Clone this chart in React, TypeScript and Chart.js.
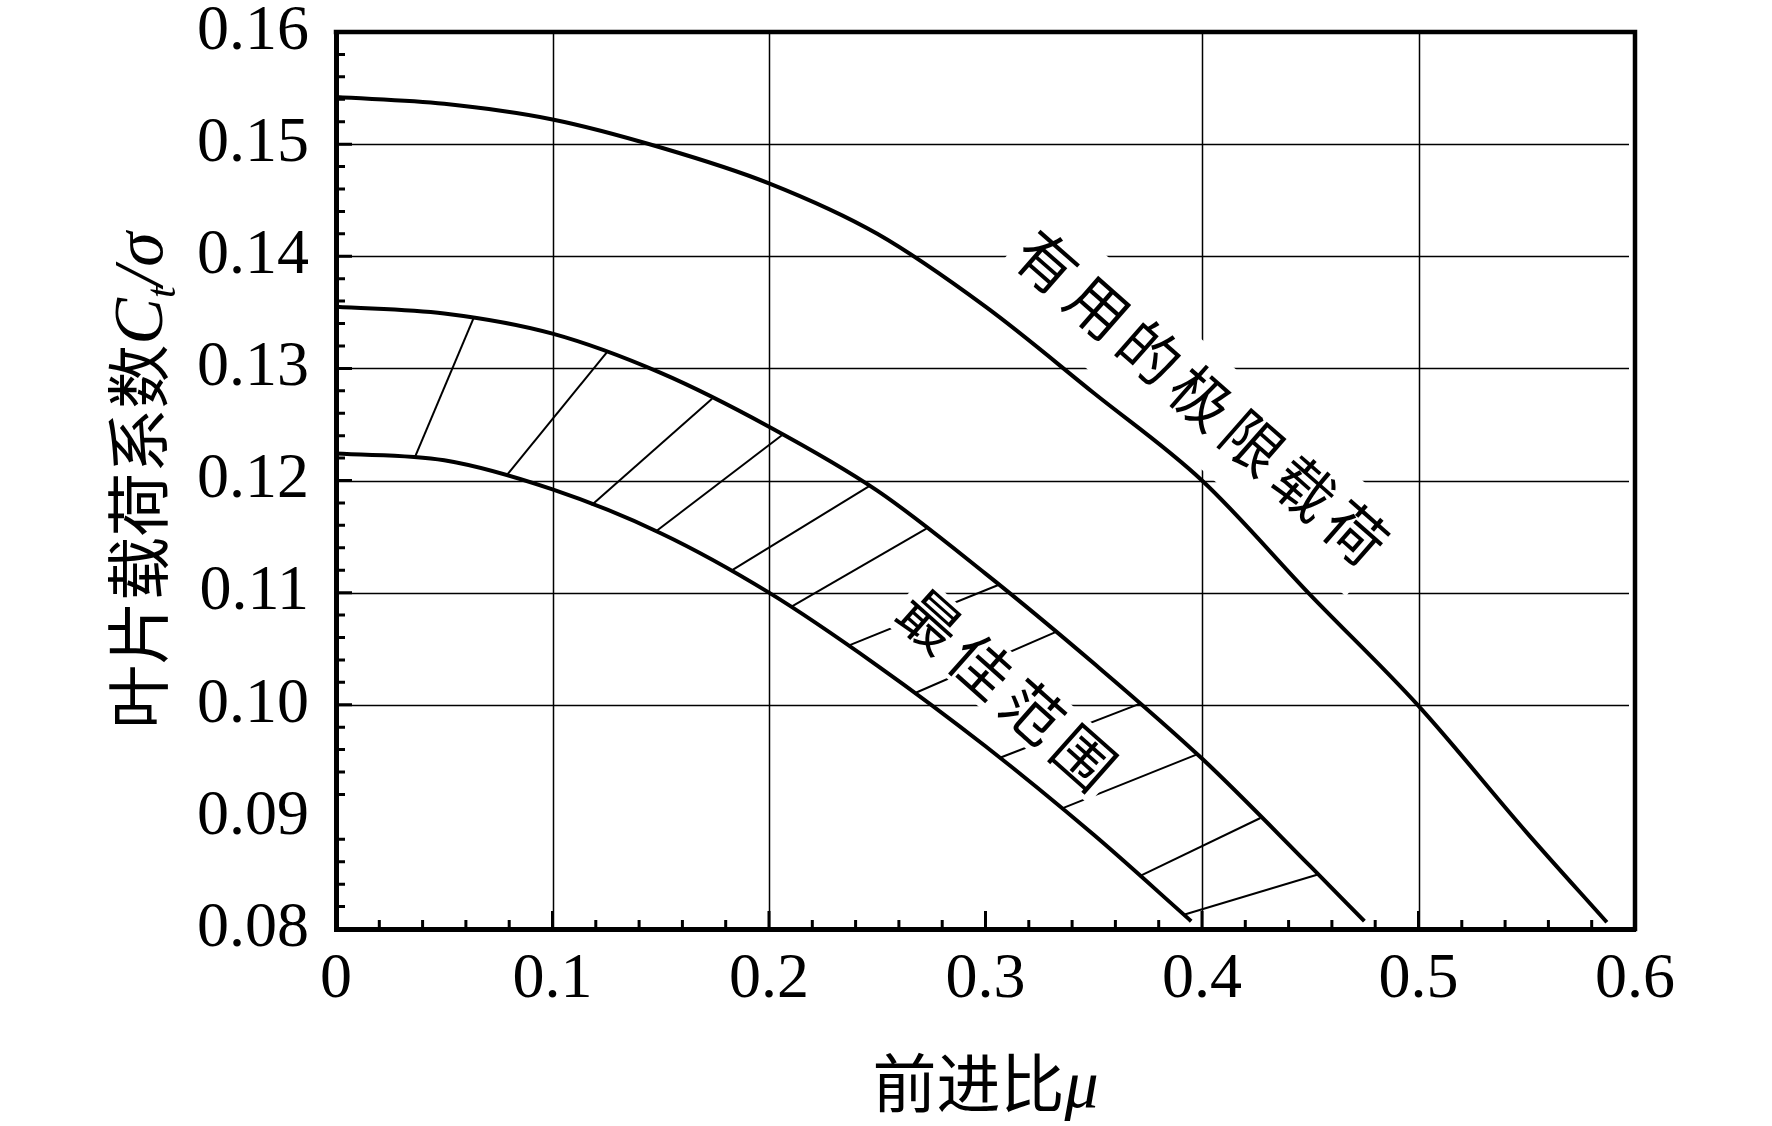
import { useEffect, useRef } from 'react';
import { Chart, registerables } from 'chart.js';

Chart.register(...registerables);

// axis tick labels
const X_TICK_LABELS = ['0', '0.1', '0.2', '0.3', '0.4', '0.5', '0.6'];
const Y_TICK_LABELS = ['0.08', '0.09', '0.10', '0.11', '0.12', '0.13', '0.14', '0.15', '0.16'];
// grid lines actually drawn in the original (0.3 and 0.09 are left out)
const X_GRID = [0.1, 0.2, 0.4, 0.5];
const Y_GRID = [0.1, 0.11, 0.12, 0.13, 0.14, 0.15];
const Y_MAJOR_TICK_OFF = [0.09];

// 有用的极限载荷 curve
const limitMu = [0, 0.05, 0.1, 0.15, 0.2, 0.25, 0.3, 0.35, 0.4, 0.45, 0.5, 0.55, 0.587];
const limitCt = [0.1542, 0.1536, 0.1522, 0.1497, 0.1465, 0.142, 0.1355, 0.1278, 0.12, 0.1098, 0.0999, 0.0886, 0.0806];

// 最佳范围, upper edge
const bestHighMu = [0, 0.05, 0.1, 0.15, 0.2, 0.25, 0.3, 0.35, 0.4, 0.45, 0.475];
const bestHighCt = [0.1355, 0.1349, 0.1331, 0.1296, 0.1248, 0.1191, 0.1117, 0.1037, 0.0952, 0.0856, 0.0807];

// 最佳范围, lower edge
const bestLowMu = [0, 0.05, 0.1, 0.15, 0.2, 0.25, 0.3, 0.35, 0.395];
const bestLowCt = [0.1224, 0.1218, 0.1192, 0.1153, 0.11, 0.1035, 0.0963, 0.0884, 0.0807];

// hatch strokes between the two edges (from lower edge to upper edge)
const hatchMu1 = [0.0365, 0.079, 0.118, 0.148, 0.183, 0.21, 0.237, 0.267, 0.307, 0.336, 0.371, 0.392];
const hatchCt1 = [0.1221, 0.1205, 0.1178, 0.1155, 0.112, 0.1087, 0.1053, 0.101, 0.0953, 0.0908, 0.0847, 0.0813];
const hatchMu2 = [0.0636, 0.125, 0.1737, 0.2064, 0.2463, 0.2727, 0.3062, 0.3326, 0.3714, 0.398, 0.427, 0.4543];
const hatchCt2 = [0.1345, 0.1314, 0.1273, 0.1241, 0.1195, 0.1157, 0.1107, 0.1065, 0.1001, 0.0956, 0.0899, 0.0849];

// curve labels: text, first and last character centre (mu, Ct)
const LIMIT_LABEL = '有用的极限载荷';
const LIMIT_FROM = [0.3284, 0.1395];
const LIMIT_TO = [0.471, 0.1153];
const BEST_LABEL = '最佳范围';
const BEST_FROM = [0.2744, 0.1075];
const BEST_TO = [0.3455, 0.0953];

const CJK = '"Noto Sans CJK SC", sans-serif';
const SERIF = '"Liberation Serif", "Times New Roman", serif';

const near = (list: number[], v: number) => list.some((g) => Math.abs(g - v) < 1e-6);

function toPoints(xs: number[], ys: number[]) {
  return xs.map((x, i) => ({ x, y: ys[i] }));
}

type Part = { t: string; font: string; dy?: number };

// draws mixed-font text centred on the origin of the current transform
function drawParts(ctx: CanvasRenderingContext2D, parts: Part[]) {
  let total = 0;
  const widths = parts.map((p) => {
    ctx.font = p.font;
    const w = ctx.measureText(p.t).width;
    total += w;
    return w;
  });
  let cx = -total / 2;
  ctx.textAlign = 'left';
  ctx.textBaseline = 'alphabetic';
  parts.forEach((p, i) => {
    ctx.font = p.font;
    ctx.fillText(p.t, cx, p.dy ?? 0);
    cx += widths[i];
  });
}

// label written along a curve, on a white band that breaks grid and hatch lines
function drawAlong(
  chart: Chart,
  text: string,
  from: number[],
  to: number[],
  bandTop: number,
  bandBottom: number,
) {
  const { ctx } = chart;
  const xs = chart.scales.x;
  const ys = chart.scales.y;
  const x0 = xs.getPixelForValue(from[0]);
  const y0 = ys.getPixelForValue(from[1]);
  const x1 = xs.getPixelForValue(to[0]);
  const y1 = ys.getPixelForValue(to[1]);
  const len = Math.hypot(x1 - x0, y1 - y0);
  const chars = Array.from(text);
  const step = len / (chars.length - 1);
  ctx.save();
  ctx.translate(x0, y0);
  ctx.rotate(Math.atan2(y1 - y0, x1 - x0));
  ctx.fillStyle = '#fff';
  ctx.fillRect(-step / 2, bandTop, len + step, bandBottom - bandTop);
  ctx.fillStyle = '#000';
  ctx.font = `60px ${CJK}`;
  ctx.textAlign = 'center';
  ctx.textBaseline = 'middle';
  chars.forEach((c, i) => ctx.fillText(c, i * step, 0));
  ctx.restore();
}

const decorations = {
  id: 'decorations',
  beforeDatasetsDraw(chart: Chart) {
    const { ctx, chartArea: a } = chart;
    const xs = chart.scales.x;
    const ys = chart.scales.y;
    ctx.save();
    ctx.strokeStyle = '#000';
    ctx.lineWidth = 1.5;
    ctx.beginPath();
    X_GRID.forEach((v) => {
      const px = Math.round(xs.getPixelForValue(v)) + 0.5;
      ctx.moveTo(px, a.top);
      ctx.lineTo(px, a.bottom);
    });
    Y_GRID.forEach((v) => {
      const py = Math.round(ys.getPixelForValue(v)) + 0.5;
      ctx.moveTo(a.left, py);
      ctx.lineTo(a.right - 6, py);
    });
    ctx.stroke();
    ctx.restore();
  },
  afterDatasetsDraw(chart: Chart) {
    drawAlong(chart, LIMIT_LABEL, LIMIT_FROM, LIMIT_TO, -44, 54);
    drawAlong(chart, BEST_LABEL, BEST_FROM, BEST_TO, -31, 32);
  },
  afterDraw(chart: Chart) {
    const { ctx, chartArea: a } = chart;
    const xs = chart.scales.x;
    const ys = chart.scales.y;
    ctx.save();
    ctx.strokeStyle = '#000';

    // inward ticks, left and bottom only
    ctx.lineWidth = 3;
    ctx.beginPath();
    for (let i = 1; i < 40; i++) {
      const v = Math.round((0.08 + i * 0.002) * 1000) / 1000;
      const major = i % 5 === 0;
      if (major && near(Y_MAJOR_TICK_OFF, v)) continue;
      const py = ys.getPixelForValue(v);
      ctx.moveTo(a.left, py);
      ctx.lineTo(a.left + (major ? 16 : 9), py);
    }
    for (let i = 1; i < 30; i++) {
      const v = i * 0.02;
      const major = i % 5 === 0;
      const px = xs.getPixelForValue(v);
      ctx.moveTo(px, a.bottom);
      ctx.lineTo(px, a.bottom - (major ? 18 : 9));
    }
    ctx.stroke();

    // top and right frame
    ctx.lineWidth = 4.5;
    ctx.lineCap = 'square';
    ctx.beginPath();
    ctx.moveTo(a.left, a.top);
    ctx.lineTo(a.right, a.top);
    ctx.lineTo(a.right, a.bottom);
    ctx.stroke();

    // axis titles
    ctx.fillStyle = '#000';
    ctx.save();
    ctx.translate((a.left + a.right) / 2, a.bottom + 178);
    drawParts(ctx, [
      { t: '前进比', font: `64px ${CJK}` },
      { t: 'μ', font: `italic 68px ${SERIF}` },
    ]);
    ctx.restore();

    ctx.save();
    ctx.translate(a.left - 174, (a.top + a.bottom) / 2);
    ctx.rotate(-Math.PI / 2);
    drawParts(ctx, [
      { t: '叶片载荷系数', font: `64px ${CJK}` },
      { t: 'C', font: `italic 70px ${SERIF}` },
      { t: 't', font: `italic 42px ${SERIF}`, dy: 13 },
      { t: '/', font: `italic 70px ${SERIF}` },
      { t: 'σ', font: `italic 70px ${SERIF}` },
    ]);
    ctx.restore();

    ctx.restore();
  },
};

export default function App() {
  const canvasRef = useRef<HTMLCanvasElement | null>(null);

  useEffect(() => {
    if (!canvasRef.current) return;

    const curve = (xs: number[], ys: number[]) => ({
      data: toPoints(xs, ys),
      showLine: true,
      borderColor: '#000',
      borderWidth: 4,
      pointRadius: 0,
      cubicInterpolationMode: 'monotone' as const,
    });
    const hatches = hatchMu1.map((m, i) => ({
      data: [
        { x: m, y: hatchCt1[i] },
        { x: hatchMu2[i], y: hatchCt2[i] },
      ],
      showLine: true,
      borderColor: '#000',
      borderWidth: 2,
      pointRadius: 0,
    }));

    const chart = new Chart(canvasRef.current, {
      type: 'scatter',
      data: {
        datasets: [
          curve(limitMu, limitCt),
          curve(bestHighMu, bestHighCt),
          curve(bestLowMu, bestLowCt),
          ...hatches,
        ],
      },
      plugins: [decorations],
      options: {
        animation: false,
        responsive: false,
        layout: { padding: { top: 32, right: 137, left: 0, bottom: 0 } },
        plugins: { legend: { display: false }, tooltip: { enabled: false } },
        scales: {
          x: {
            type: 'linear',
            min: 0,
            max: 0.6,
            afterFit: (s) => {
              s.height = 197;
            },
            ticks: {
              stepSize: 0.1,
              autoSkip: false,
              maxRotation: 0,
              padding: 19,
              color: '#000',
              font: { family: SERIF, size: 64, lineHeight: 1 },
              callback: (_v, i) => X_TICK_LABELS[i],
            },
            grid: { display: false, drawTicks: false },
            border: { color: '#000', width: 5 },
          },
          y: {
            type: 'linear',
            min: 0.08,
            max: 0.16,
            afterFit: (s) => {
              s.width = 336;
            },
            ticks: {
              stepSize: 0.01,
              autoSkip: false,
              padding: 27,
              color: '#000',
              // tiny line height keeps the label half-height from pushing the plot top down
              font: { family: SERIF, size: 64, lineHeight: 0.05 },
              callback: (_v, i) => Y_TICK_LABELS[i],
            },
            grid: { display: false, drawTicks: false },
            border: { color: '#000', width: 5 },
          },
        },
      },
    });

    return () => chart.destroy();
  }, []);

  return (
    <div
      style={{
        position: 'fixed',
        left: 0,
        top: 0,
        width: 1772,
        height: 1126,
        background: '#fff',
      }}
    >
      <canvas ref={canvasRef} width={1772} height={1126} style={{ display: 'block' }} />
    </div>
  );
}
